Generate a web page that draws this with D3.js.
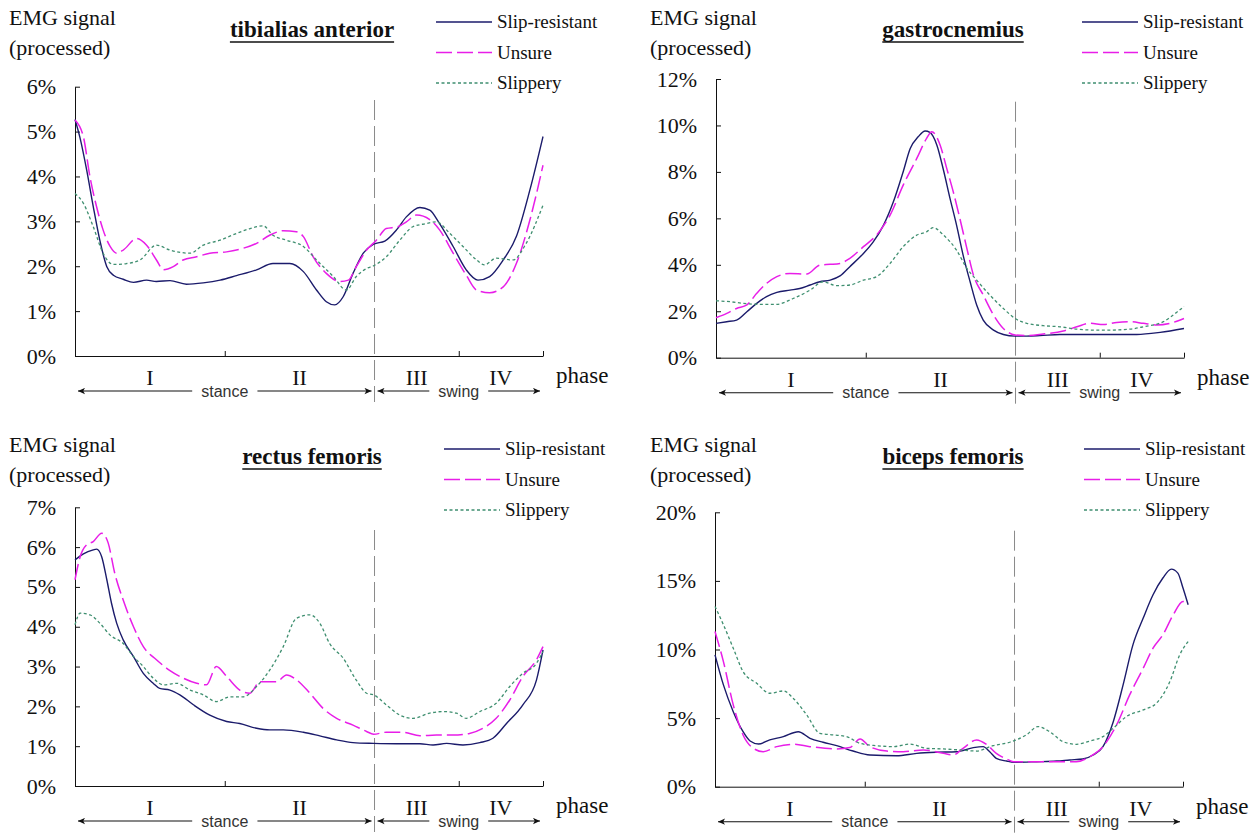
<!DOCTYPE html>
<html>
<head>
<meta charset="utf-8">
<script src="https://cdn.jsdelivr.net/npm/d3@7/dist/d3.min.js"></script>
<style>
  html, body { margin: 0; padding: 0; background: #ffffff; }
  svg { display: block; }
</style>
</head>
<body>
<svg id="chart" width="1260" height="834"></svg>
<script>
// ---------------- DATA ----------------
const seriesNames = ["Slip-resistant", "Unsure", "Slippery"];
const phaseBounds = [0, 32, 64, 82, 100];
const phaseNames = ["I", "II", "III", "IV"];
const gaitParts = ["stance", "swing"];

const taTicks = [0, 1, 2, 3, 4, 5, 6];
const gaTicks = [0, 2, 4, 6, 8, 10, 12];
const rfTicks = [0, 1, 2, 3, 4, 5, 6, 7];
const bfTicks = [0, 5, 10, 15, 20];

// tibialias anterior  [gait %, EMG %]
const taSlip = [[0,5.27],[1.1,4.85],[2.5,4.14],[3.9,3.33],[5.3,2.58],[6.8,1.99],[8.2,1.80],[10.3,1.71],[12.5,1.64],[15.3,1.69],[17.4,1.66],[20.3,1.68],[23.8,1.60],[27.4,1.63],[31.0,1.69],[34.5,1.79],[38.8,1.92],[42.3,2.06],[45.9,2.06],[48.8,1.88],[51.6,1.47],[53.7,1.21],[55.5,1.14],[57.3,1.32],[59.4,1.84],[61.6,2.29],[63.8,2.49],[66.2,2.56],[68.7,2.81],[70.8,3.10],[73.7,3.31],[75.8,3.25],[77.9,2.95],[80.8,2.44],[83.6,1.92],[86.1,1.69],[88.6,1.77],[91.5,2.14],[94.3,2.66],[97.2,3.70],[100,4.89]];
const taUnsure = [[0,5.26],[1.8,4.88],[3.2,3.99],[4.6,3.33],[6.0,2.81],[7.5,2.44],[8.9,2.29],[10.3,2.36],[13.2,2.62],[15.3,2.47],[17.4,2.14],[18.9,1.92],[21.0,1.99],[23.1,2.14],[26.0,2.21],[28.8,2.29],[32.4,2.32],[35.9,2.40],[38.8,2.51],[41.6,2.69],[44.5,2.79],[47.3,2.77],[48.8,2.66],[50.9,2.21],[53.7,1.84],[56.6,1.66],[58.4,1.69],[60.1,1.99],[62.3,2.36],[64.4,2.58],[66.5,2.84],[69.0,2.88],[70.8,2.99],[73.0,3.14],[75.8,3.04],[77.9,2.81],[80.8,2.29],[83.6,1.80],[85.8,1.47],[88.6,1.41],[91.5,1.54],[94.3,2.06],[97.2,3.03],[100,4.25]];
const taSlippery = [[0,3.62],[1.8,3.40],[3.9,2.88],[6.0,2.29],[8.2,2.04],[11.0,2.06],[13.9,2.14],[17.4,2.47],[20.3,2.36],[24.6,2.29],[27.4,2.47],[31.0,2.58],[34.5,2.73],[37.4,2.84],[40.2,2.90],[42.3,2.69],[45.2,2.58],[48.8,2.44],[51.6,2.14],[55.2,1.77],[58.0,1.47],[60.1,1.77],[62.3,1.95],[63.8,2.01],[66.5,2.21],[69.4,2.58],[72.2,2.88],[75.1,2.95],[77.2,2.99],[80.1,2.73],[82.9,2.44],[85.8,2.14],[87.5,2.03],[90.0,2.18],[93.6,2.14],[96.4,2.51],[100,3.36]];

// gastrocnemius
const gaSlip = [[0,1.48],[2.3,1.55],[4.4,1.62],[6.6,1.98],[8.7,2.34],[10.8,2.63],[13.0,2.81],[15.8,2.91],[17.9,2.98],[20.1,3.13],[22.2,3.27],[24.4,3.34],[26.5,3.52],[28.6,3.92],[31.5,4.49],[33.6,4.99],[35.8,5.71],[37.9,6.71],[40.0,8.01],[41.5,9.01],[43.2,9.51],[44.7,9.76],[45.7,9.70],[47.2,9.15],[48.6,8.08],[50.0,6.86],[51.4,5.71],[52.8,4.42],[54.3,3.27],[55.7,2.27],[57.1,1.62],[59.3,1.19],[61.4,1.00],[63.9,0.93],[66.4,0.93],[69.2,0.95],[73.5,1.00],[78.5,1.00],[84.2,1.00],[89.9,1.00],[94.9,1.09],[100,1.26]];
const gaUnsure = [[0,1.72],[2.3,1.91],[4.4,2.12],[6.6,2.27],[8.7,2.77],[10.8,3.20],[13.0,3.49],[15.8,3.63],[19.4,3.60],[22.2,3.99],[24.4,4.02],[26.5,4.06],[28.6,4.28],[31.5,4.78],[34.3,5.28],[37.2,6.14],[40.0,7.43],[42.9,8.58],[45.0,9.44],[46.1,9.73],[47.9,9.15],[49.3,8.15],[50.7,7.14],[52.1,6.00],[53.6,4.71],[55.0,3.56],[57.1,2.70],[59.3,1.84],[61.4,1.26],[63.9,0.98],[66.4,0.95],[69.9,1.02],[74.2,1.15],[77.1,1.33],[79.9,1.48],[82.8,1.43],[85.6,1.52],[88.5,1.55],[91.3,1.48],[94.2,1.41],[97.0,1.48],[100,1.69]];
const gaSlippery = [[0,2.45],[3.0,2.41],[5.8,2.34],[9.4,2.30],[13.0,2.30],[16.5,2.55],[20.1,2.91],[22.9,3.27],[25.8,3.10],[28.6,3.13],[31.5,3.34],[34.3,3.49],[37.2,4.06],[40.0,4.78],[42.9,5.28],[45.0,5.42],[46.4,5.60],[48.6,5.28],[51.4,4.63],[53.6,3.85],[55.7,3.34],[58.5,2.70],[61.4,2.12],[63.9,1.69],[66.4,1.48],[69.9,1.38],[73.5,1.33],[77.1,1.23],[80.6,1.19],[84.2,1.19],[88.5,1.23],[91.3,1.33],[95.6,1.55],[98.4,1.95],[100,2.20]];

// rectus femoris
const rfSlip = [[0,5.68],[1.8,5.83],[3.9,5.93],[4.6,5.95],[5.7,5.76],[6.8,5.18],[7.8,4.59],[8.9,4.09],[10.3,3.67],[12.5,3.25],[14.6,2.83],[16.7,2.58],[18.1,2.45],[20.3,2.41],[22.4,2.29],[25.3,2.04],[28.8,1.78],[32.4,1.62],[35.2,1.57],[38.8,1.45],[41.6,1.41],[44.5,1.41],[48.8,1.35],[52.3,1.26],[55.9,1.16],[59.4,1.09],[63.8,1.07],[68.7,1.06],[73.7,1.06],[76.5,1.03],[79.4,1.07],[82.9,1.03],[86.5,1.09],[89.3,1.20],[92.2,1.57],[95.7,2.04],[98.6,2.66],[100,3.42]];
const rfUnsure = [[0,5.18],[1.1,5.76],[2.5,6.06],[3.9,6.14],[5.7,6.35],[7.1,6.10],[8.5,5.34],[10.3,4.67],[12.5,4.00],[14.6,3.50],[17.4,3.17],[20.3,2.90],[23.1,2.71],[26.0,2.58],[28.1,2.54],[30.2,3.00],[32.4,2.75],[35.2,2.41],[37.4,2.33],[39.5,2.62],[43.1,2.62],[45.2,2.79],[47.3,2.67],[50.2,2.33],[53.0,1.95],[55.9,1.70],[59.4,1.53],[62.3,1.37],[63.8,1.30],[66.5,1.35],[70.1,1.35],[73.7,1.26],[77.2,1.28],[80.8,1.28],[84.3,1.32],[87.2,1.45],[90.0,1.70],[92.9,2.16],[95.7,2.75],[98.6,3.17],[100,3.50]];
const rfSlippery = [[0,4.05],[1.1,4.34],[3.2,4.30],[5.3,4.09],[7.5,3.79],[10.3,3.58],[12.5,3.25],[14.6,3.00],[16.7,2.71],[18.9,2.54],[21.7,2.58],[24.6,2.41],[27.4,2.29],[30.2,2.12],[33.1,2.24],[35.9,2.24],[38.8,2.50],[41.6,2.91],[44.5,3.50],[47.3,4.21],[50.2,4.30],[52.3,4.09],[54.4,3.58],[57.3,3.21],[60.1,2.66],[62.3,2.33],[63.8,2.29],[66.5,2.04],[69.4,1.78],[72.2,1.70],[75.8,1.83],[78.6,1.87],[81.5,1.83],[83.6,1.70],[86.5,1.87],[90.0,2.08],[92.9,2.50],[95.7,2.83],[98.6,3.08],[100,3.38]];

// biceps femoris
const bfSlip = [[0,9.61],[1.8,7.42],[3.9,5.47],[6.0,4.01],[7.5,3.33],[9.3,3.11],[11.7,3.41],[14.6,3.65],[17.8,4.01],[20.3,3.53],[23.1,3.24],[26.0,2.99],[29.5,2.60],[33.1,2.31],[38.8,2.26],[43.1,2.43],[47.3,2.51],[51.6,2.55],[55.2,2.85],[57.3,2.92],[58.7,2.55],[60.1,2.07],[62.3,1.87],[63.8,1.78],[68.7,1.82],[73.0,1.87],[75.8,1.95],[78.6,2.02],[80.8,2.31],[82.9,2.92],[85.1,4.74],[87.2,7.42],[89.3,10.34],[91.5,12.29],[93.6,13.99],[95.7,15.21],[97.5,15.86],[98.9,15.57],[100,14.48],[101.1,13.26]];
const bfUnsure = [[0,11.31],[1.8,9.12],[3.9,5.96],[6.0,3.77],[8.2,2.80],[10.3,2.55],[13.2,2.92],[16.7,3.09],[20.3,2.92],[26.0,2.75],[28.8,2.85],[31.0,3.48],[33.1,2.92],[36.7,2.60],[40.2,2.55],[44.5,2.68],[48.8,2.43],[50.9,2.31],[53.0,2.80],[55.9,3.41],[58.0,3.09],[60.1,2.43],[62.3,2.02],[63.8,1.82],[68.7,1.82],[73.0,1.82],[77.2,1.82],[80.1,2.19],[82.9,2.92],[85.8,4.50],[88.6,6.69],[91.5,8.64],[93.6,10.10],[95.7,11.07],[97.9,12.53],[100,13.50],[101.1,13.50]];
const bfSlippery = [[0,13.14],[1.8,11.80],[3.9,10.10],[6.0,8.39],[8.9,7.54],[11.7,6.81],[14.6,6.98],[16.7,6.45],[19.6,5.23],[22.4,3.89],[25.3,3.77],[28.1,3.65],[31.0,3.16],[34.5,2.99],[38.1,2.92],[41.6,3.11],[45.2,2.80],[48.8,2.75],[52.3,2.68],[55.9,2.60],[59.4,2.99],[63.0,3.24],[66.5,3.77],[69.0,4.38],[71.5,4.01],[74.4,3.28],[77.2,3.09],[80.1,3.33],[82.9,3.65],[85.1,4.26],[87.9,5.11],[91.5,5.60],[94.3,6.08],[97.2,7.66],[99.3,9.61],[101.1,10.58]];

// ---------------- LAYOUT ----------------
const styles = [
  { color: "#1b1b6b", width: 1.4, dash: null },
  { color: "#e81ee8", width: 1.5, dash: "16,5" },
  { color: "#3f8f70", width: 1.3, dash: "3,2.5" }
];

const panels = [
  { title: "tibialias anterior", series: [taSlip, taUnsure, taSlippery], ticks: taTicks,
    x0: 75, x1: 543, yTop: 86.7, yBot: 356, hx: 0, hy: 0, lx: 436 },
  { title: "gastrocnemius", series: [gaSlip, gaUnsure, gaSlippery], ticks: gaTicks,
    x0: 716, x1: 1184, yTop: 79, yBot: 357.7, hx: 641, hy: 0, lx: 1082 },
  { title: "rectus femoris", series: [rfSlip, rfUnsure, rfSlippery], ticks: rfTicks,
    x0: 75, x1: 543, yTop: 507.3, yBot: 786, hx: 0, hy: 427, lx: 444 },
  { title: "biceps femoris", series: [bfSlip, bfUnsure, bfSlippery], ticks: bfTicks,
    x0: 715, x1: 1183, yTop: 512.3, yBot: 786.7, hx: 641, hy: 427, lx: 1084 }
];

const svg = d3.select("#chart");
const SERIF = "'Liberation Serif', 'Times New Roman', serif";
const SANS = "'Liberation Sans', Arial, sans-serif";

const defs = svg.append("defs");
defs.append("marker").attr("id", "arrowEnd")
  .attr("viewBox", "0 0 10 10").attr("refX", 10).attr("refY", 5)
  .attr("markerWidth", 10).attr("markerHeight", 7).attr("markerUnits", "userSpaceOnUse")
  .attr("orient", "auto")
  .append("path").attr("d", "M0,0.5 L10,5 L0,9.5 L2.5,5 Z").attr("fill", "#111");
defs.append("marker").attr("id", "arrowStart")
  .attr("viewBox", "0 0 10 10").attr("refX", 0).attr("refY", 5)
  .attr("markerWidth", 10).attr("markerHeight", 7).attr("markerUnits", "userSpaceOnUse")
  .attr("orient", "auto")
  .append("path").attr("d", "M10,0.5 L0,5 L10,9.5 L7.5,5 Z").attr("fill", "#111");

panels.forEach(p => {
  const g = svg.append("g");
  const maxV = p.ticks[p.ticks.length - 1];
  const x = d3.scaleLinear().domain([0, 100]).range([p.x0, p.x1]);
  const y = d3.scaleLinear().domain([0, maxV]).range([p.yBot, p.yTop]);

  // header texts
  g.append("text").attr("x", 9 + p.hx).attr("y", 25 + p.hy)
    .attr("font-family", SERIF).attr("font-size", 22).attr("fill", "#111")
    .text("EMG signal");
  g.append("text").attr("x", 9 + p.hx).attr("y", 55 + p.hy)
    .attr("font-family", SERIF).attr("font-size", 22).attr("fill", "#111")
    .text("(processed)");

  const title = g.append("text").attr("x", 312 + p.hx).attr("y", 37 + p.hy)
    .attr("text-anchor", "middle").attr("font-family", SERIF)
    .attr("font-size", 23).attr("font-weight", "bold").attr("fill", "#111")
    .text(p.title);
  const bb = title.node().getBBox();
  g.append("line").attr("x1", bb.x).attr("x2", bb.x + bb.width)
    .attr("y1", 42 + p.hy).attr("y2", 42 + p.hy)
    .attr("stroke", "#111").attr("stroke-width", 1.6);

  // legend
  seriesNames.forEach((name, i) => {
    const ly = 22 + p.hy + i * 30.5;
    g.append("line").attr("x1", p.lx).attr("x2", p.lx + 56)
      .attr("y1", ly).attr("y2", ly)
      .attr("stroke", styles[i].color).attr("stroke-width", styles[i].width)
      .attr("stroke-dasharray", styles[i].dash);
    g.append("text").attr("x", p.lx + 61).attr("y", ly + 6)
      .attr("font-family", SERIF).attr("font-size", 19).attr("fill", "#111")
      .text(name);
  });

  // axes
  const yAxis = d3.axisLeft(y).tickValues(p.ticks).tickSize(-5).tickSizeOuter(0)
    .tickPadding(19).tickFormat(d => d + "%");
  const ya = g.append("g").attr("transform", `translate(${p.x0},0)`).call(yAxis);
  ya.selectAll("text").attr("font-family", SERIF).attr("font-size", 22).attr("fill", "#111");
  ya.selectAll("line, path").attr("stroke", "#111");

  const xAxis = d3.axisBottom(x).tickValues([phaseBounds[1], phaseBounds[3], phaseBounds[4]])
    .tickSize(-5).tickSizeOuter(0).tickFormat("");
  const xa = g.append("g").attr("transform", `translate(0,${p.yBot})`).call(xAxis);
  xa.selectAll("line, path").attr("stroke", "#111");

  // stance / swing divider
  g.append("line").attr("x1", x(phaseBounds[2])).attr("x2", x(phaseBounds[2]))
    .attr("y1", p.yBot - 256).attr("y2", p.yBot + 46)
    .attr("stroke", "#8a8a8a").attr("stroke-width", 1).attr("stroke-dasharray", "20,6");

  // series
  const line = d3.line().x(d => x(d[0])).y(d => y(d[1])).curve(d3.curveMonotoneX);
  p.series.forEach((data, i) => {
    g.append("path").datum(data).attr("d", line)
      .attr("fill", "none").attr("stroke", styles[i].color)
      .attr("stroke-width", styles[i].width)
      .attr("stroke-dasharray", styles[i].dash)
      .attr("stroke-linejoin", "round");
  });

  // phase labels
  phaseNames.forEach((name, i) => {
    g.append("text").attr("x", (x(phaseBounds[i]) + x(phaseBounds[i + 1])) / 2)
      .attr("y", p.yBot + 29).attr("text-anchor", "middle")
      .attr("font-family", SERIF).attr("font-size", 22).attr("fill", "#111")
      .text(name);
  });
  g.append("text").attr("x", p.x1 + 13).attr("y", p.yBot + 27)
    .attr("font-family", SERIF).attr("font-size", 23).attr("fill", "#111")
    .text("phase");

  // stance / swing arrows
  const ay = p.yBot + 35;
  const spans = [[phaseBounds[0], phaseBounds[2]], [phaseBounds[2], phaseBounds[4]]];
  spans.forEach((s, i) => {
    const xa0 = x(s[0]) + 3, xa1 = x(s[1]) - 3;
    g.append("line").attr("x1", xa0).attr("x2", xa1).attr("y1", ay).attr("y2", ay)
      .attr("stroke", "#111").attr("stroke-width", 1.1)
      .attr("marker-start", "url(#arrowStart)").attr("marker-end", "url(#arrowEnd)");
    const cx = (xa0 + xa1) / 2;
    const t = g.append("text").attr("x", cx).attr("y", ay + 5.5).attr("text-anchor", "middle")
      .attr("font-family", SANS).attr("font-size", 16).attr("fill", "#333")
      .text(gaitParts[i]);
    const tb = t.node().getBBox();
    g.insert("rect", () => t.node()).attr("x", tb.x - 9).attr("y", ay - 3)
      .attr("width", tb.width + 18).attr("height", 6).attr("fill", "#fff");
  });
});
</script>
</body>
</html>
